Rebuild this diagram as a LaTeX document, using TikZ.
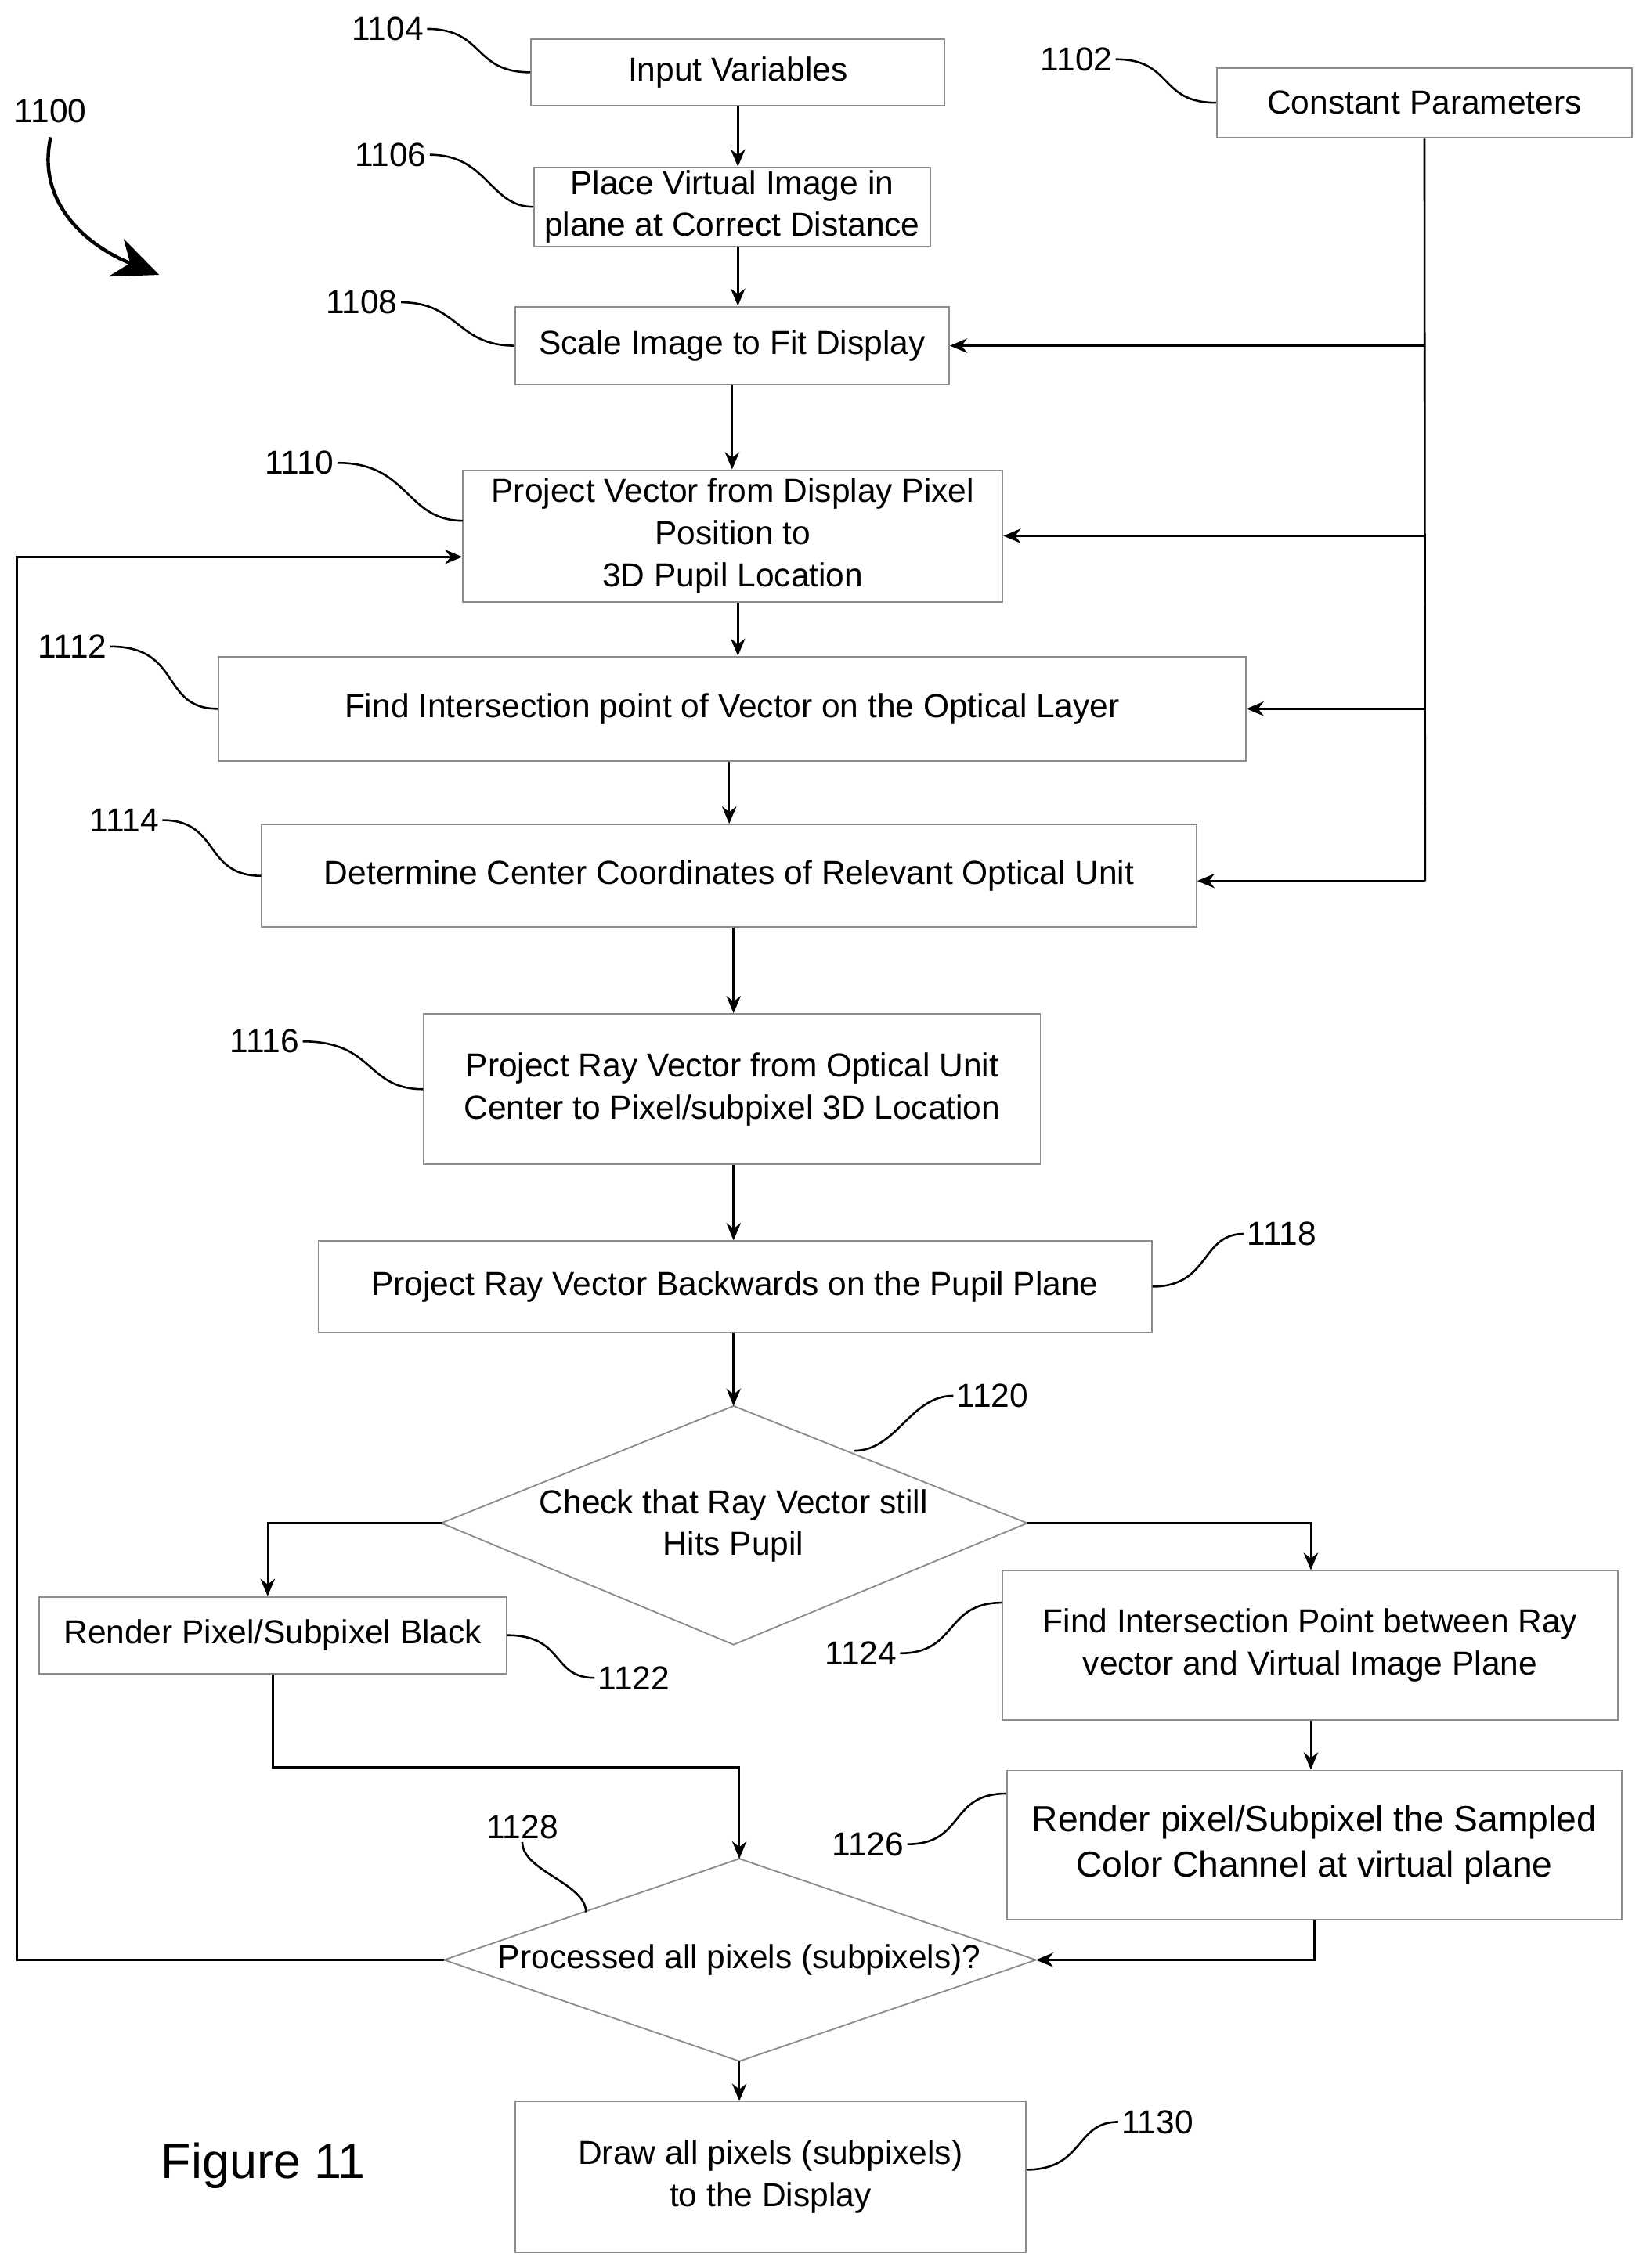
\documentclass[tikz,border=0pt]{standalone}
\usepackage{fontspec}
\setmainfont{Liberation Sans}
\usetikzlibrary{arrows.meta}
\begin{document}
\begin{tikzpicture}[x=0.5pt,y=-0.5pt,
  box/.style={draw=black!45,line width=0.5pt,inner sep=1pt,align=center,font=\fontsize{11.5}{14.5}\selectfont},
  arr/.style={-{Stealth[length=6pt,width=5pt]},line width=0.7pt},
  lead/.style={line width=0.7pt},
  lab/.style={font=\fontsize{11.5}{13}\selectfont,inner sep=1pt}]
\useasboundingbox (0,0) rectangle (1140,1568);
\node[box,minimum width=143pt,minimum height=23pt] (inp) at (510,50) {Input Variables};
\node[box,minimum width=143.5pt,minimum height=24pt] (cst) at (984.5,71) {Constant Parameters};
\node[box,minimum width=137pt,minimum height=27pt] (b06) at (506,143) {Place Virtual Image in\\plane at Correct Distance};
\node[box,minimum width=150pt,minimum height=27pt] (b08) at (506,239) {Scale Image to Fit Display};
\node[box,minimum width=186.5pt,minimum height=45.5pt] (b10) at (506.5,370.5) {Project Vector from Display Pixel\\Position to\\3D Pupil Location};
\node[box,minimum width=355pt,minimum height=36pt] (b12) at (506,490) {Find Intersection point of Vector on the Optical Layer};
\node[box,minimum width=323pt,minimum height=35.5pt] (b14) at (504,605.5) {Determine Center Coordinates of Relevant Optical Unit};
\node[box,minimum width=213pt,minimum height=52pt] (b16) at (506,753) {Project Ray Vector from Optical Unit\\Center to Pixel/subpixel 3D Location};
\node[box,minimum width=288pt,minimum height=31.5pt] (b18) at (508,889.5) {Project Ray Vector Backwards on the Pupil Plane};
\coordinate (d1t) at (507,972); \coordinate (d1r) at (710,1053);
\coordinate (d1b) at (507,1137); \coordinate (d1l) at (305,1053);
\draw[draw=black!45,line width=0.5pt] (d1t)--(d1r)--(d1b)--(d1l)--cycle;
\node[box,draw=none] (d1) at (507,1055) {Check that Ray Vector still\\Hits Pupil};
\node[box,minimum width=161.5pt,minimum height=26.5pt] (b22) at (188.5,1130.5) {Render Pixel/Subpixel Black};
\node[box,minimum width=212.5pt,minimum height=51.5pt] (b24) at (905.5,1137.5) {Find Intersection Point between Ray\\vector and Virtual Image Plane};
\node[box,minimum width=212.5pt,minimum height=51.5pt,font=\fontsize{12.5}{15.5}\selectfont] (b26) at (908.5,1275.5) {Render pixel/Subpixel the Sampled\\Color Channel at virtual plane};
\coordinate (d2t) at (511,1285); \coordinate (d2r) at (716,1355);
\coordinate (d2b) at (511,1425); \coordinate (d2l) at (307,1355);
\draw[draw=black!45,line width=0.5pt] (d2t)--(d2r)--(d2b)--(d2l)--cycle;
\node[box,draw=none] (d2) at (511,1355) {Processed all pixels (subpixels)?};
\node[box,minimum width=176.5pt,minimum height=52pt] (b30) at (532.5,1505) {Draw all pixels (subpixels)\\to the Display};
\node[font=\fontsize{17}{20}\selectfont] (fig) at (182,1497) {Figure 11};
% main arrows
\draw[arr] (inp.south) -- (b06.north -| inp.south);
\draw[arr] (b06.south -| inp.south) -- (b08.north -| inp.south);
\draw[arr] (b08.south) -- (b10.north -| b08.south);
\draw[arr] (b10.south -| inp.south) -- (b12.north -| inp.south);
\draw[arr] (b12.south -| b14.south) -- (b14.north);
\draw[arr] (b14.south -| d1t) -- (b16.north -| d1t);
\draw[arr] (b16.south -| d1t) -- (b18.north -| d1t);
\draw[arr] (b18.south -| d1t) -- (d1t);
\coordinate (cb) at (985,609);
\draw[line width=0.7pt] (cst.south) -- (cb);
\draw[arr] (cb) -- (b14.east |- cb);
\draw[arr] (cst.south |- b08.east) -- (b08.east);
\draw[arr] (cst.south |- b10.east) -- (b10.east);
\draw[arr] (cst.south |- b12.east) -- (b12.east);
\draw[arr] (d1l) -| (b22.north -| 185,0);
\draw[arr] (d1r) -| (b24.north -| 906,0);
\draw[arr] (b24.south -| 906,0) -- (b26.north -| 906,0);
\draw[arr] (b26.south) |- (d2r);
\draw[arr] (b22.south) |- (511,1222) -- (d2t);
\draw[arr] (d2l) -- (12,1355) |- (b10.west |- 0,385);
\draw[arr] (d2b) -- (b30.north -| d2b);
% reference labels
\node[lab] (l04) at (268,20) {1104};
\draw[lead] (l04.east) .. controls +(40,0) and +(-40,0) .. (inp.west);
\node[lab] (l02) at (744,41) {1102};
\draw[lead] (l02.east) .. controls +(40,0) and +(-40,0) .. (cst.west);
\node[lab] (l06) at (270,107) {1106};
\draw[lead] (l06.east) .. controls +(40,0) and +(-30,0) .. (b06.west);
\node[lab] (l08) at (250,209) {1108};
\draw[lead] (l08.east) .. controls +(40,0) and +(-40,0) .. (b08.west);
\node[lab] (l10) at (207,320) {1110};
\draw[lead] (l10.east) .. controls +(50,0) and +(-40,0) .. (320,360);
\node[lab] (l12) at (50,447) {1112};
\draw[lead] (l12.east) .. controls +(50,0) and +(-40,0) .. (b12.west);
\node[lab] (l14) at (86,567) {1114};
\draw[lead] (l14.east) .. controls +(40,0) and +(-40,0) .. (b14.west);
\node[lab] (l16) at (183,720) {1116};
\draw[lead] (l16.east) .. controls +(50,0) and +(-40,0) .. (b16.west);
\node[lab] (l18) at (886,853) {1118};
\draw[lead] (b18.east) .. controls +(40,0) and +(-30,0) .. (l18.west);
\node[lab] (l20) at (686,965) {1120};
\draw[lead] (590,1003) .. controls +(30,0) and +(-30,0) .. (l20.west);
\node[lab] (l22) at (438,1160) {1122};
\draw[lead] (b22.east) .. controls +(40,0) and +(-30,0) .. (l22.west);
\node[lab] (l24) at (595,1143) {1124};
\draw[lead] (l24.east) .. controls +(40,0) and +(-40,0) .. (b24.west |- 0,1108);
\node[lab] (l26) at (600,1275) {1126};
\draw[lead] (l26.east) .. controls +(40,0) and +(-40,0) .. (b26.west |- 0,1240);
\node[lab] (l28) at (361,1263) {1128};
\draw[lead] (l28.south) .. controls +(0,20) and +(0,-20) .. (405,1322);
\node[lab] (l30) at (800,1467) {1130};
\draw[lead] (b30.east |- 0,1500) .. controls +(40,0) and +(-30,0) .. (l30.west);
\node[lab] (l00) at (35,77) {1100};
\draw[line width=1.2pt,-{Stealth[length=16pt,width=14pt]}] (35,95) .. controls (25,140) and (60,170) .. (110,190);
\end{tikzpicture}
\end{document}
